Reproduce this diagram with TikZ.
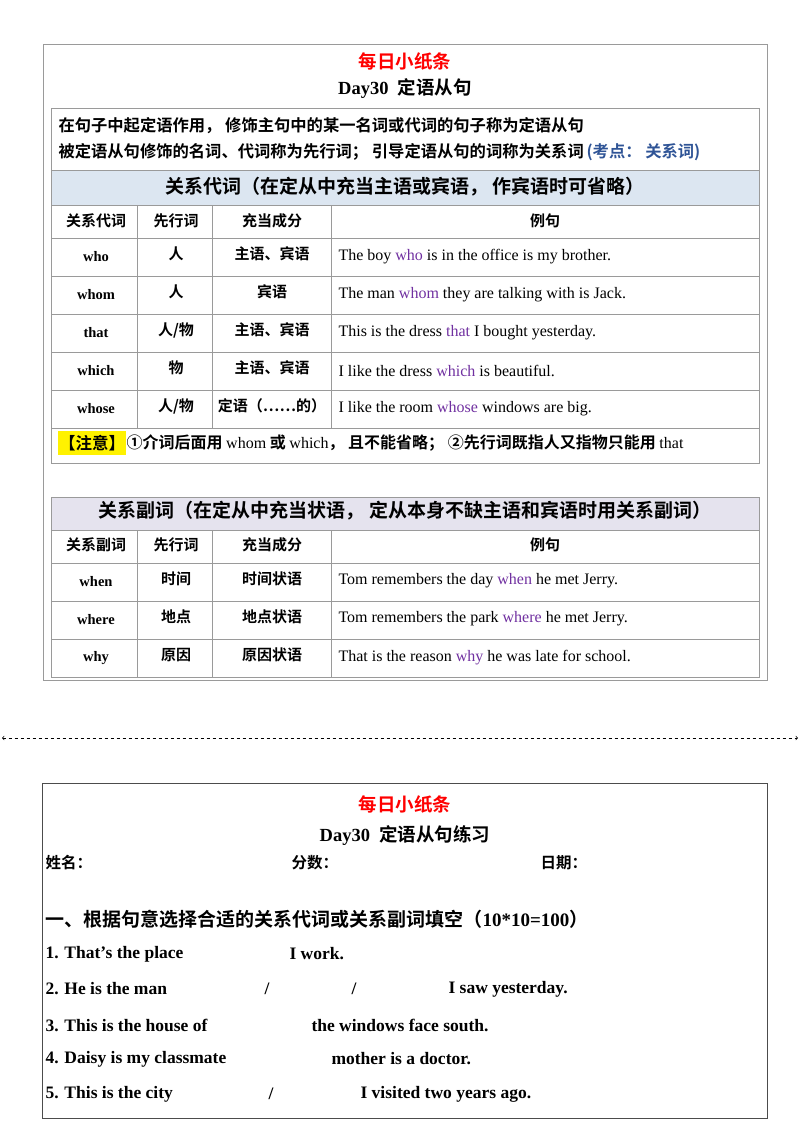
\documentclass[tikz,border=0pt]{standalone}
\usepackage{fontspec}
\setmainfont{Liberation Serif}
\newfontfamily\cjk{Noto Sans CJK SC}[BoldFont=* Bold]
\definecolor{pur}{HTML}{7030A0}
\definecolor{kblue}{HTML}{2F5496}
\definecolor{hblue}{HTML}{DCE6F1}
\definecolor{hlav}{HTML}{E5E3EE}
\definecolor{gline}{HTML}{9A9A9A}
\begin{document}
\begin{tikzpicture}[x=1pt,y=-1pt,
  cell/.style={anchor=center,font=\fontsize{14.5}{16}\selectfont\bfseries},
  zh/.style={anchor=center,font=\fontsize{15}{17}\selectfont\cjk\bfseries},
  ex/.style={anchor=west,font=\fontsize{16}{18}\selectfont},
  q/.style={anchor=west,font=\fontsize{17.5}{19}\selectfont\bfseries},
  grid/.style={draw=gline,line width=0.8pt}]
\useasboundingbox (0,0) rectangle (800,1132);
\draw[gline,line width=1pt] (43,45) rectangle (767,680);
\node[font=\fontsize{18.5}{20}\selectfont\cjk\bfseries,text=red] (t1) at (405,61) {每日小纸条};
\node[font=\fontsize{18.5}{20}\selectfont\bfseries] (t2) at (405,89) {Day30\ \ {\cjk 定语从句}};
\fill[hblue] (51,170) rectangle (759,205);
\draw[grid] (51,108) rectangle (759,463);
\foreach \y in {170,205,238,276,314,352,390,428} \draw[grid] (51,\y) -- (759,\y);
\foreach \x in {137,212,331} \draw[grid] (\x,205) -- (\x,428);
\node[anchor=west,font=\fontsize{16.3}{18}\selectfont\cjk\bfseries] (i1) at (55,126) {在句子中起定语作用，\ 修饰主句中的某一名词或代词的句子称为定语从句};
\node[anchor=west,font=\fontsize{16.3}{18}\selectfont\cjk\bfseries] (i2) at (55,152) {被定语从句修饰的名词、代词称为先行词；\ 引导定语从句的词称为关系词\,{\color{kblue}(考点：\ 关系词)}};
\node[font=\fontsize{19}{21}\selectfont\cjk\bfseries] (h1) at (405,187) {关系代词（在定从中充当主语或宾语，\ 作宾语时可省略）};
\node[zh] at (96,221) {关系代词};
\node[zh] at (176,221) {先行词};
\node[zh] at (272,221) {充当成分};
\node[zh] at (545,221) {例句};
\node[cell] at (96,257) {who};
\node[zh] at (176,254) {人}; \node[zh] at (272,254) {主语、宾语};
\node[ex] at (335,257) {The boy {\color{pur}who} is in the office is my brother.};
\node[cell] at (96,295) {whom};
\node[zh] at (176,292) {人}; \node[zh] at (272,292) {宾语};
\node[ex] at (335,295) {The man {\color{pur}whom} they are talking with is Jack.};
\node[cell] at (96,333) {that};
\node[zh] at (176,330) {人/物}; \node[zh] at (272,330) {主语、宾语};
\node[ex] at (335,333) {This is the dress {\color{pur}that} I bought yesterday.};
\node[cell] at (96,371) {which};
\node[zh] at (176,368) {物}; \node[zh] at (272,368) {主语、宾语};
\node[ex] at (335,371) {I like the dress {\color{pur}which} is beautiful.};
\node[cell] at (96,409) {whose};
\node[zh] at (176,406) {人/物}; \node[zh] at (272,406) {定语（……的）};
\node[ex] at (335,409) {I like the room {\color{pur}whose} windows are big.};
\node[anchor=west,inner sep=1pt,fill=yellow,minimum height=24pt,font=\fontsize{16.5}{18}\selectfont\cjk\bfseries] (nb) at (58,443) {【注意】};
\node[anchor=west,inner sep=0pt,font=\fontsize{16}{18}\selectfont\cjk\bfseries] (nt) at (nb.east) {①介词后面用 {\rmfamily\mdseries whom} 或 {\rmfamily\mdseries which}，\ 且不能省略；\ ②先行词既指人又指物只能用 {\rmfamily\mdseries that}};
\fill[hlav] (51,497) rectangle (759,530);
\draw[grid] (51,497) rectangle (759,677);
\foreach \y in {530,563,601,639} \draw[grid] (51,\y) -- (759,\y);
\foreach \x in {137,212,331} \draw[grid] (\x,530) -- (\x,677);
\node[font=\fontsize{19}{21}\selectfont\cjk\bfseries] (h2) at (405,511) {关系副词（在定从中充当状语，\ 定从本身不缺主语和宾语时用关系副词）};
\node[zh] at (96,545) {关系副词};
\node[zh] at (176,545) {先行词};
\node[zh] at (272,545) {充当成分};
\node[zh] at (545,545) {例句};
\node[cell] at (96,582) {when};
\node[zh] at (176,579) {时间}; \node[zh] at (272,579) {时间状语};
\node[ex] at (335,581) {Tom remembers the day {\color{pur}when} he met Jerry.};
\node[cell] at (96,620) {where};
\node[zh] at (176,617) {地点}; \node[zh] at (272,617) {地点状语};
\node[ex] at (335,619) {Tom remembers the park {\color{pur}where} he met Jerry.};
\node[cell] at (96,658) {why};
\node[zh] at (176,655) {原因}; \node[zh] at (272,655) {原因状语};
\node[ex] at (335,658) {That is the reason {\color{pur}why} he was late for school.};
\coordinate (dl) at (2,738); \coordinate (dr) at (798,738);
\draw[dashed,line width=0.7pt,{<[open]}-{>[open]}] (dl) -- (dr);
\draw[black!70,line width=1pt] (42,783) rectangle (767,1118);
\node[font=\fontsize{18.5}{20}\selectfont\cjk\bfseries,text=red] (b1) at (405,804) {每日小纸条};
\node[font=\fontsize{18.5}{20}\selectfont\bfseries] (b2) at (405,836) {Day30\ \ {\cjk 定语从句练习}};
\node[anchor=west,font=\fontsize{15.5}{17}\selectfont\cjk\bfseries] at (42,863) {姓名：};
\node[anchor=west,font=\fontsize{15.5}{17}\selectfont\cjk\bfseries] at (288,863) {分数：};
\node[anchor=west,font=\fontsize{15.5}{17}\selectfont\cjk\bfseries] at (537,863) {日期：};
\node[anchor=west,font=\fontsize{19}{21}\selectfont\cjk\bfseries] at (42,919) {一、根据句意选择合适的关系代词或关系副词填空（{\rmfamily 10*10=100}）};
\node[q] at (42,954) {1. That's the place};
\node[q] at (286,954) {I work.};
\node[q] at (42,989) {2. He is the man};
\node[q] at (261,989) {/};
\node[q] at (348,989) {/};
\node[q] at (445,989) {I saw yesterday.};
\node[q] at (42,1025) {3. This is the house of};
\node[q] at (308,1025) {the windows face south.};
\node[q] at (42,1059) {4. Daisy is my classmate};
\node[q] at (328,1059) {mother is a doctor.};
\node[q] at (42,1094) {5. This is the city};
\node[q] at (265,1094) {/};
\node[q] at (357,1094) {I visited two years ago.};
\end{tikzpicture}
\end{document}
